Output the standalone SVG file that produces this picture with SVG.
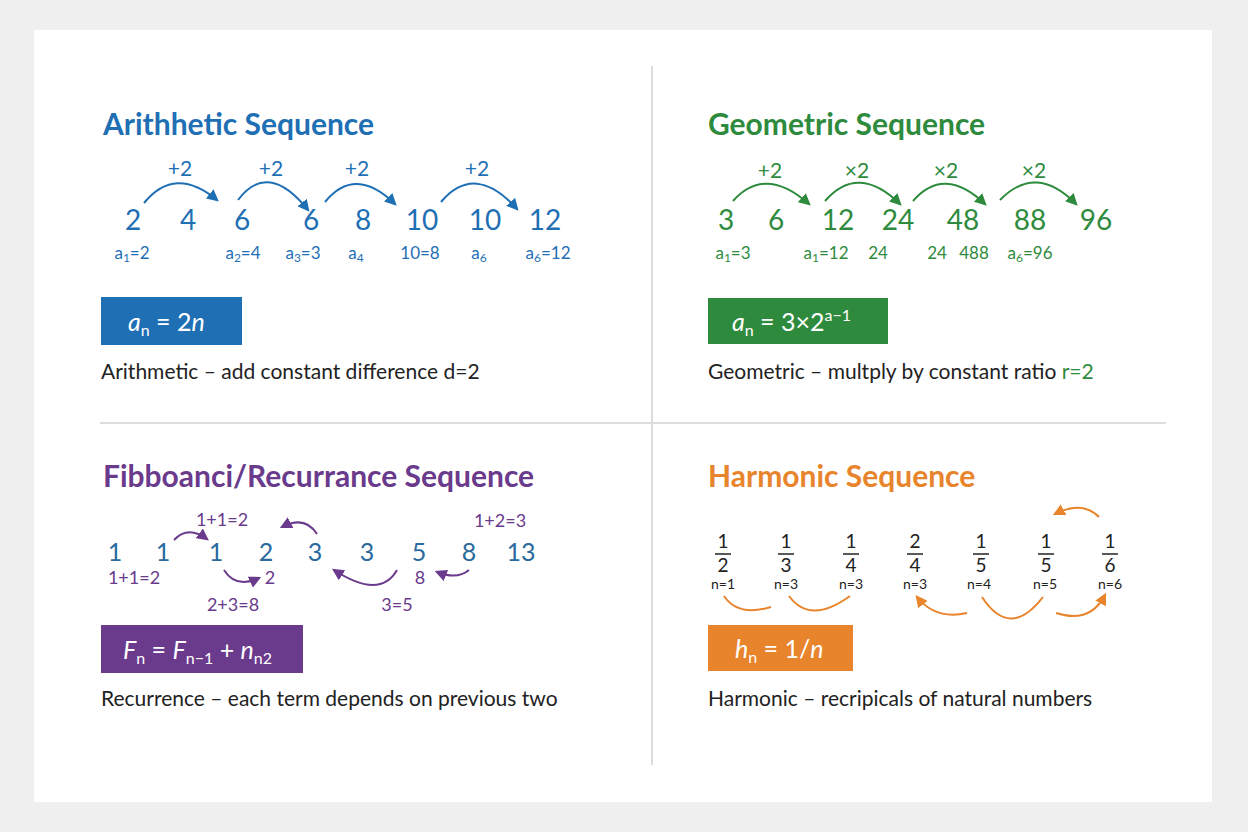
<svg xmlns="http://www.w3.org/2000/svg" width="1248" height="832" viewBox="0 0 1248 832">
<style>
text{font-family:Lato,"Open Sans","Liberation Sans",sans-serif}
.t{font-size:30px;font-weight:bold}
.n{font-size:28px;text-anchor:middle}
.l{font-size:17px;text-anchor:middle}
.op{font-size:21px;text-anchor:middle}
.d{font-size:21px;fill:#222}
.f{font-size:25px;fill:#fff}
.b{fill:#1f6fb5}.g{fill:#2e8b3e}.p{fill:#6a3a8c}.o{fill:#e8842c}.k{fill:#222}
.ab{fill:none;stroke:#1f6fb5;stroke-width:2}
.ag{fill:none;stroke:#2e8b3e;stroke-width:2}
.ap{fill:none;stroke:#6a3a8c;stroke-width:2}
.ao{fill:none;stroke:#e8842c;stroke-width:2}
</style>
<defs>
<marker id="mb" viewBox="0 0 10 10" refX="8" refY="5" markerWidth="6" markerHeight="6" orient="auto"><path d="M0,0L10,5L0,10z" fill="#1f6fb5"/></marker>
<marker id="mg" viewBox="0 0 10 10" refX="8" refY="5" markerWidth="6" markerHeight="6" orient="auto"><path d="M0,0L10,5L0,10z" fill="#2e8b3e"/></marker>
<marker id="mp" viewBox="0 0 10 10" refX="8" refY="5" markerWidth="6" markerHeight="6" orient="auto"><path d="M0,0L10,5L0,10z" fill="#6a3a8c"/></marker>
<marker id="mo" viewBox="0 0 10 10" refX="8" refY="5" markerWidth="6" markerHeight="6" orient="auto"><path d="M0,0L10,5L0,10z" fill="#e8842c"/></marker>
</defs>
<rect width="1248" height="832" fill="#efefef"/>
<rect x="34" y="30" width="1178" height="772" fill="#fff"/>
<g stroke="#dcdcdc" stroke-width="2"><line x1="652" y1="66" x2="652" y2="765"/><line x1="100" y1="423" x2="1166" y2="423"/></g>

<g id="arithmetic">
<text x="103" y="135" class="t b">Arithhetic Sequence</text>
<g class="b">
<text x="133" y="230" class="n">2</text><text x="188" y="230" class="n">4</text><text x="242" y="230" class="n">6</text><text x="311" y="230" class="n">6</text><text x="363" y="230" class="n">8</text><text x="422" y="230" class="n">10</text><text x="485" y="230" class="n">10</text><text x="545" y="230" class="n">12</text>
<text x="132" y="259" class="l">a<tspan font-size="12" dy="3">1</tspan><tspan dy="-3">=2</tspan></text>
<text x="243" y="259" class="l">a<tspan font-size="12" dy="3">2</tspan><tspan dy="-3">=4</tspan></text>
<text x="303" y="259" class="l">a<tspan font-size="12" dy="3">3</tspan><tspan dy="-3">=3</tspan></text>
<text x="356" y="259" class="l">a<tspan font-size="12" dy="3">4</tspan></text>
<text x="420" y="259" class="l">10=8</text>
<text x="479" y="259" class="l">a<tspan font-size="12" dy="3">6</tspan></text>
<text x="548" y="259" class="l">a<tspan font-size="12" dy="3">6</tspan><tspan dy="-3">=12</tspan></text>
<text x="180" y="176" class="op">+2</text><text x="271" y="176" class="op">+2</text><text x="357" y="176" class="op">+2</text><text x="477" y="176" class="op">+2</text>
</g>
<rect x="101" y="297" width="141" height="48" fill="#1f6fb5"/>
<text x="128" y="331" class="f"><tspan font-style="italic">a</tspan><tspan font-size="16" dy="5">n</tspan><tspan dy="-5"> = 2</tspan><tspan font-style="italic">n</tspan></text>
<text x="101" y="379" class="d">Arithmetic – add constant difference d=2</text>
</g>

<g id="geometric">
<text x="708" y="135" class="t g">Geometric Sequence</text>
<g class="g">
<text x="726" y="230" class="n">3</text><text x="776" y="230" class="n">6</text><text x="838" y="230" class="n">12</text><text x="898" y="230" class="n">24</text><text x="963" y="230" class="n">48</text><text x="1030" y="230" class="n">88</text><text x="1096" y="230" class="n">96</text>
<text x="733" y="259" class="l">a<tspan font-size="12" dy="3">1</tspan><tspan dy="-3">=3</tspan></text>
<text x="826" y="259" class="l">a<tspan font-size="12" dy="3">1</tspan><tspan dy="-3">=12</tspan></text>
<text x="878" y="259" class="l">24</text><text x="937" y="259" class="l">24</text><text x="974" y="259" class="l">488</text>
<text x="1030" y="259" class="l">a<tspan font-size="12" dy="3">6</tspan><tspan dy="-3">=96</tspan></text>
<text x="770" y="178" class="op">+2</text><text x="857" y="178" class="op">×2</text><text x="946" y="178" class="op">×2</text><text x="1034" y="178" class="op">×2</text>
</g>
<rect x="708" y="298" width="180" height="46" fill="#2e8b3e"/>
<text x="732" y="331" class="f"><tspan font-style="italic">a</tspan><tspan font-size="16" dy="5">n</tspan><tspan dy="-5"> = 3×2</tspan><tspan font-size="16" dy="-10">a−1</tspan></text>
<text x="708" y="379" class="d">Geometric – multply by constant ratio <tspan class="g">r=2</tspan></text>
</g>

<g id="fibonacci">
<text x="103" y="487" class="t p">Fibboanci/Recurrance Sequence</text>
<g fill="#2a6a9e" font-size="25" text-anchor="middle">
<text x="115" y="561">1</text><text x="163" y="561">1</text><text x="216" y="561">1</text><text x="266" y="561">2</text><text x="315" y="561">3</text><text x="367" y="561">3</text><text x="419" y="561">5</text><text x="469" y="561">8</text><text x="521" y="561">13</text>
</g>
<g class="p" font-size="18" text-anchor="middle">
<text x="222" y="526">1+1=2</text><text x="500" y="527">1+2=3</text><text x="134" y="584">1+1=2</text><text x="270" y="584">2</text><text x="420" y="584">8</text><text x="233" y="611">2+3=8</text><text x="397" y="611">3=5</text>
</g>
<rect x="101" y="625" width="202" height="48" fill="#6a3a8c"/>
<text x="123" y="659" class="f"><tspan font-style="italic">F</tspan><tspan font-size="16" dy="5">n</tspan><tspan dy="-5"> = </tspan><tspan font-style="italic">F</tspan><tspan font-size="16" dy="5">n−1</tspan><tspan dy="-5"> + </tspan><tspan font-style="italic">n</tspan><tspan font-size="16" dy="5">n2</tspan></text>
<text x="101" y="706" class="d">Recurrence – each term depends on previous two</text>
</g>

<g id="harmonic">
<text x="708" y="487" class="t o">Harmonic Sequence</text>
<g class="k" font-size="19" text-anchor="middle">
<text x="723" y="548">1</text><text x="723" y="572">2</text>
<text x="786" y="548">1</text><text x="786" y="572">3</text>
<text x="851" y="548">1</text><text x="851" y="572">4</text>
<text x="915" y="548">2</text><text x="915" y="572">4</text>
<text x="981" y="548">1</text><text x="981" y="572">5</text>
<text x="1046" y="548">1</text><text x="1046" y="572">5</text>
<text x="1110" y="548">1</text><text x="1110" y="572">6</text>
</g>
<g stroke="#222" stroke-width="1.5"><line x1="715" y1="554" x2="731" y2="554"/><line x1="778" y1="554" x2="794" y2="554"/><line x1="843" y1="554" x2="859" y2="554"/><line x1="907" y1="554" x2="923" y2="554"/><line x1="973" y1="554" x2="989" y2="554"/><line x1="1038" y1="554" x2="1054" y2="554"/><line x1="1102" y1="554" x2="1118" y2="554"/></g>
<g class="k" font-size="14" text-anchor="middle">
<text x="723" y="589">n=1</text><text x="786" y="589">n=3</text><text x="851" y="589">n=3</text><text x="915" y="589">n=3</text><text x="979" y="589">n=4</text><text x="1045" y="589">n=5</text><text x="1110" y="589">n=6</text>
</g>
<rect x="708" y="625" width="145" height="46" fill="#e8842c"/>
<text x="735" y="658" class="f"><tspan font-style="italic">h</tspan><tspan font-size="16" dy="5">n</tspan><tspan dy="-5"> = 1/</tspan><tspan font-style="italic">n</tspan></text>
<text x="708" y="706" class="d">Harmonic – recripicals of natural numbers</text>
</g>

<g id="connectors">
<path class="ab" d="M144,203 Q175,165 217,200" marker-end="url(#mb)"/>
<path class="ab" d="M238,200 Q268,160 308,210" marker-end="url(#mb)"/>
<path class="ab" d="M325,202 Q355,165 395,204" marker-end="url(#mb)"/>
<path class="ab" d="M441,202 Q475,162 517,209" marker-end="url(#mb)"/>
<path class="ag" d="M733,201 Q765,165 809,204" marker-end="url(#mg)"/>
<path class="ag" d="M825,201 Q858,163 900,204" marker-end="url(#mg)"/>
<path class="ag" d="M913,201 Q944,165 985,204" marker-end="url(#mg)"/>
<path class="ag" d="M1000,200 Q1036,163 1076,204" marker-end="url(#mg)"/>
<path class="ap" d="M174,540 Q188,525 207,539" marker-end="url(#mp)"/>
<path class="ap" d="M317,534 Q305,515 282,527" marker-end="url(#mp)"/>
<path class="ap" d="M224,570 Q236,589 259,578" marker-end="url(#mp)"/>
<path class="ap" d="M397,570 Q380,600 334,570" marker-end="url(#mp)"/>
<path class="ap" d="M469,570 Q457,580 437,572" marker-end="url(#mp)"/>
<path class="ao" d="M724,596 Q738,617 771,607"/>
<path class="ao" d="M789,596 Q810,625 850,596"/>
<path class="ao" d="M967,613 Q935,620 917,597" marker-end="url(#mo)"/>
<path class="ao" d="M982,597 Q1010,640 1043,597"/>
<path class="ao" d="M1056,613 Q1090,624 1105,595" marker-end="url(#mo)"/>
<path class="ao" d="M1099,517 Q1082,500 1055,514" marker-end="url(#mo)"/>
</g>
</svg>
